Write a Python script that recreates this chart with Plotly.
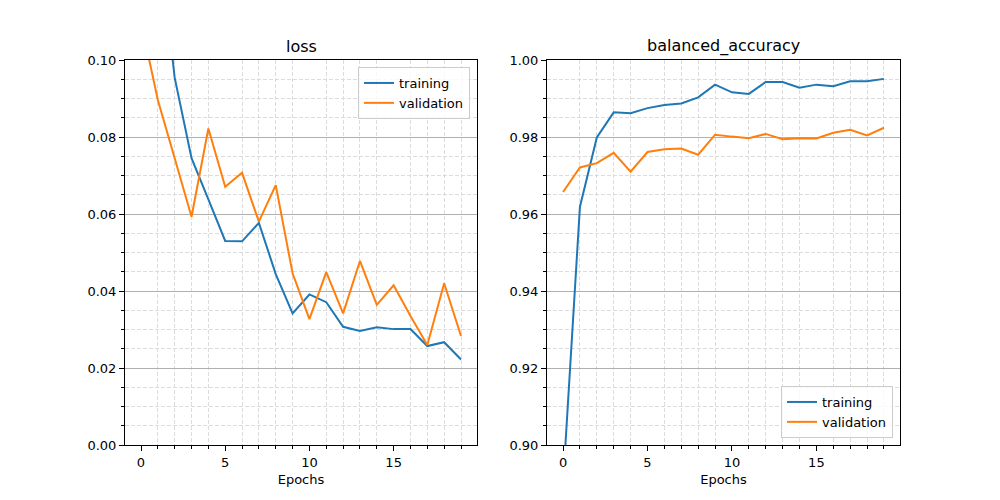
import plotly.graph_objects as go

# training history
epochs = list(range(20))
loss_train = [0.350, 0.134, 0.0954, 0.0745, 0.0638, 0.0530, 0.0529, 0.0577, 0.0444, 0.0342,
              0.0391, 0.0371, 0.0307, 0.0296, 0.0306, 0.0301, 0.0301, 0.0257, 0.0267, 0.0222]
loss_val = [0.110, 0.0896, 0.0745, 0.0593, 0.0822, 0.0671, 0.0707, 0.0580, 0.0675, 0.0446,
            0.0327, 0.0449, 0.0342, 0.0478, 0.0364, 0.0415, 0.0335, 0.0260, 0.0420, 0.0283]
bacc_train = [0.890, 0.9619, 0.9799, 0.9864, 0.9862, 0.9875, 0.9883, 0.9887, 0.9903, 0.9936,
              0.9916, 0.9912, 0.9943, 0.9943, 0.9928, 0.9936, 0.9932, 0.9945, 0.9945, 0.9951]
bacc_val = [0.9657, 0.9721, 0.9732, 0.9759, 0.9710, 0.9761, 0.9768, 0.9770, 0.9754, 0.9806,
            0.9801, 0.9797, 0.9808, 0.9794, 0.9797, 0.9796, 0.9811, 0.9819, 0.9804, 0.9824]

blue = "#1f77b4"
orange = "#ff7f0e"
font = "DejaVu Sans"

fig = go.Figure()
fig.add_trace(go.Scatter(x=epochs, y=loss_train, name="training", mode="lines",
                         line=dict(color=blue, width=2), xaxis="x", yaxis="y", legend="legend"))
fig.add_trace(go.Scatter(x=epochs, y=loss_val, name="validation", mode="lines",
                         line=dict(color=orange, width=2), xaxis="x", yaxis="y", legend="legend"))
fig.add_trace(go.Scatter(x=epochs, y=bacc_train, name="training", mode="lines",
                         line=dict(color=blue, width=2), xaxis="x2", yaxis="y2", legend="legend2"))
fig.add_trace(go.Scatter(x=epochs, y=bacc_val, name="validation", mode="lines",
                         line=dict(color=orange, width=2), xaxis="x2", yaxis="y2", legend="legend2"))

minor_grid = dict(ticks="outside", ticklen=3, tickcolor="black",
                  showgrid=True, gridcolor="#dcdcdc", griddash="4px,2px", gridwidth=1)

xax = dict(range=[-0.95, 19.95], dtick=5, tick0=0, ticks="outside", ticklen=5, tickcolor="black",
           showline=True, linecolor="black", linewidth=1, mirror=True,
           showgrid=False, zeroline=False, automargin=False,
           minor=dict(minor_grid, dtick=1),
           title=dict(text="Epochs", standoff=6, font=dict(size=13, color="black")),
           tickfont=dict(size=13, color="black"))
yax = dict(ticks="outside", ticklen=5, tickcolor="black", tickformat=".2f",
           showline=True, linecolor="black", linewidth=1, mirror=True,
           showgrid=True, gridcolor="#b0b0b0", gridwidth=1, zeroline=False, automargin=False,
           dtick=0.02, minor=dict(minor_grid, dtick=0.005),
           tickfont=dict(size=13, color="black"))

fig.update_layout(
    width=1000, height=500,
    margin=dict(l=0, r=0, t=0, b=0, autoexpand=False),
    paper_bgcolor="white", plot_bgcolor="white",
    font=dict(family=font, color="black"),
    xaxis=dict(xax, domain=[0.117, 0.469], anchor="y"),
    yaxis=dict(yax, domain=[0.126, 0.896], range=[0, 0.1], tick0=0, anchor="x"),
    xaxis2=dict(xax, domain=[0.539, 0.892], anchor="y2"),
    yaxis2=dict(yax, domain=[0.126, 0.896], range=[0.9, 1.0], tick0=0.9, anchor="x2"),
    legend=dict(x=0.462, y=0.882, xanchor="right", yanchor="top",
                bgcolor="rgba(255,255,255,0.8)", bordercolor="#cccccc", borderwidth=1,
                font=dict(size=13), tracegroupgap=0, itemwidth=30),
    legend2=dict(x=0.885, y=0.14, xanchor="right", yanchor="bottom",
                 bgcolor="rgba(255,255,255,0.8)", bordercolor="#cccccc", borderwidth=1,
                 font=dict(size=13), tracegroupgap=0, itemwidth=30),
    annotations=[
        dict(text="loss", x=0.293, y=0.90, xref="paper", yref="paper",
             xanchor="center", yanchor="bottom", showarrow=False, font=dict(size=16)),
        dict(text="balanced_accuracy", x=0.7155, y=0.90, xref="paper", yref="paper",
             xanchor="center", yanchor="bottom", showarrow=False, font=dict(size=16)),
    ],
)

fig.write_html("out.html")
